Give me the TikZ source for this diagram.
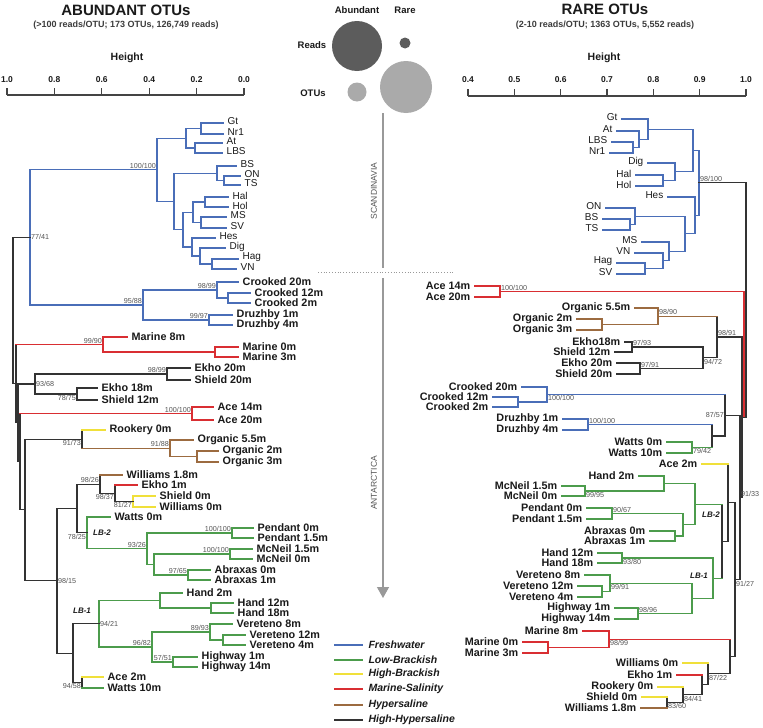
\documentclass[tikz,border=0pt]{standalone}
\usepackage{fontspec}
\setmainfont{Liberation Sans}
\usepackage{tikz}
\usetikzlibrary{arrows.meta,calc}
\definecolor{salfresh}{HTML}{4A6EB8}
\definecolor{sallow}{HTML}{4C9C4C}
\definecolor{salhigh}{HTML}{F0E03A}
\definecolor{salmarine}{HTML}{D92E32}
\definecolor{salhyper}{HTML}{9C6B40}
\definecolor{salhh}{HTML}{333333}
\definecolor{salink}{HTML}{1A1A1A}
\definecolor{salmute}{HTML}{555555}
\definecolor{saldark}{HTML}{5C5C5C}
\definecolor{sallight}{HTML}{AAAAAA}
\definecolor{salaxis}{HTML}{444444}
\tikzset{
  bra/.style={line width=1.05pt, line cap=rect},
  lfa/.style={anchor=west, inner xsep=4.5pt, inner ysep=0pt, font=\bfseries\fontsize{10.8}{11}\selectfont, text=salink},
  lfr/.style={lfa, anchor=east},
  sca/.style={anchor=west, inner xsep=4.5pt, inner ysep=0pt, yshift=1.5pt, font=\fontsize{10}{10}\selectfont, text=salink},
  scr/.style={sca, anchor=east},
  bsv/.style={inner sep=1pt, font=\fontsize{7.2}{7.2}\selectfont, text=salmute},
  lbg/.style={inner sep=0pt, font=\bfseries\itshape\fontsize{8}{8}\selectfont, text=salink},
  ttl/.style={inner sep=0pt, font=\bfseries\fontsize{15}{15}\selectfont, text=salink},
  subt/.style={inner sep=0pt, font=\bfseries\fontsize{9}{9}\selectfont, text=salink!85},
  tck/.style={inner sep=0pt, font=\bfseries\fontsize{8.5}{8.5}\selectfont, text=salink},
  hgt/.style={inner sep=0pt, font=\bfseries\fontsize{10.5}{10.5}\selectfont, text=salink},
  cir/.style={circle, inner sep=0pt},
  cil/.style={inner sep=0pt, font=\bfseries\fontsize{9.5}{9.5}\selectfont, text=salink},
  reg/.style={inner sep=0pt, rotate=90, font=\fontsize{8.5}{8.5}\selectfont, text=salmute},
  axl/.style={line width=1.2pt, draw=salaxis},
  lgd/.style={anchor=west, inner xsep=6pt, font=\bfseries\itshape\fontsize{10.5}{10.5}\selectfont, text=salink},
  guide/.style={line width=1.3pt, draw=gray!80},
}

\begin{document}
\begin{tikzpicture}[x=1pt, y=-1pt]
  \useasboundingbox (0,0) rectangle (763,728);
  \fill[white] (0,0) rectangle (763,728);

  % headers and height axes
  \node[ttl] (tA) at (126,10) {ABUNDANT OTUs};
  \node[subt] (sA) at (126,25) {(>100 reads/OTU; 173 OTUs, 126,749 reads)};
  \node[hgt] (hA) at (127,58) {Height};
  \node[ttl] (tR) at (605,9) {RARE OTUs};
  \node[subt] (sR) at (605,25) {(2-10 reads/OTU; 1363 OTUs, 5,552 reads)};
  \node[hgt] (hR) at (604,58) {Height};
  \draw[axl] (7,95) -- (244,95);
  \foreach \i/\v in {0/1.0,1/0.8,2/0.6,3/0.4,4/0.2,5/0.0} {
    \draw[axl] (7+47.4*\i,95) -- ++(0,-7);
    \node[tck] (ta\i) at (7+47.4*\i,80) {\v};
  }
  \draw[axl] (468,96) -- (746,96);
  \foreach \i/\v in {0/0.4,1/0.5,2/0.6,3/0.7,4/0.8,5/0.9,6/1.0} {
    \draw[axl] (468+46.33*\i,96) -- ++(0,-7);
    \node[tck] (tr\i) at (468+46.33*\i,80) {\v};
  }

  % reads / OTUs bubbles
  \node[cil] (cA) at (357,10) {Abundant};
  \node[cil] (cR) at (405,10) {Rare};
  \node[cil] (cRd) at (312,45) {Reads};
  \node[cil] (cOt) at (313,93) {OTUs};
  \node[cir, fill=saldark, minimum size=50pt] (bAR) at (357,46) {};
  \node[cir, fill=saldark, minimum size=11pt] (bRR) at (405,43) {};
  \node[cir, fill=sallight, minimum size=19pt] (bAO) at (357,92) {};
  \node[cir, fill=sallight, minimum size=52pt] (bRO) at (406,87) {};

  % region guide
  \coordinate (gT) at (383,113);
  \coordinate (gM) at (383,268);
  \coordinate (gB) at (383,278);
  \coordinate (gE) at (383,598);
  \coordinate (dL) at (318,272);
  \coordinate (dR) at (455,272);
  \draw[guide] (gT) -- (gM);
  \draw[guide, -{Triangle[length=11pt,width=12pt]}] (gB) -- (gE);
  \draw[gray!80, line width=0.8pt, dotted] (dL) -- (dR);
  \node[reg] (rgS) at (374,191) {SCANDINAVIA};
  \node[reg] (rgA) at (374,483) {ANTARCTICA};

  % abundant leaves
  \foreach \n/\x/\y/\t in {aGt/223/123/Gt, aNr/223/134/Nr1, aAt/222/143/At, aLBS/222/153/LBS,
      aBS/236/166/BS, aON/240/176/ON, aTS/240/185/TS, aHal/228/197/Hal, aHol/228/207/Hol,
      aMS/226/217/MS, aSV/226/228/SV, aHes/215/238/Hes, aDig/225/248/Dig, aHag/238/259/Hag,
      aVN/236/269/VN} {
    \coordinate (\n) at (\x,\y);
    \node[sca] (l\n) at (\n) {\t};
  }
  \foreach \n/\x/\y/\t in {aC20/238/282/Crooked 20m, aC12/250/293/Crooked 12m, aC2/250/303/Crooked 2m,
      aD1/232/315/Druzhby 1m, aD4/232/325/Druzhby 4m, aM8/127/337/Marine 8m, aM0/238/347/Marine 0m,
      aM3/238/357/Marine 3m, aE20/190/368/Ekho 20m, aS20/190/380/Shield 20m, aE18/97/388/Ekho 18m,
      aS12/97/400/Shield 12m, aA14/213/407/Ace 14m, aA20/213/420/Ace 20m, aRk/105/430/Rookery 0m,
      aO55/193/440/Organic 5.5m, aO2/218/451/Organic 2m, aO3/218/462/Organic 3m,
      aW18/122/475/Williams 1.8m, aE1/137/485/Ekho 1m, aS0/155/496/Shield 0m, aW0/155/507/Williams 0m,
      aWt0/110/517/Watts 0m, aP0/253/528/Pendant 0m, aP15/253/538/Pendant 1.5m,
      aMc15/252/549/McNeil 1.5m, aMc0/252/559/McNeil 0m, aAb0/210/570/Abraxas 0m,
      aAb1/210/580/Abraxas 1m, aH2/182/593/Hand 2m, aH12/233/603/Hand 12m, aH18/233/613/Hand 18m,
      aV8/232/624/Vereteno 8m, aV12/245/635/Vereteno 12m, aV4/245/645/Vereteno 4m,
      aHw1/197/657/Highway 1m, aHw14/197/667/Highway 14m, aA2/103/677/Ace 2m, aWt10/103/688/Watts 10m} {
    \coordinate (\n) at (\x,\y);
    \node[lfa] (l\n) at (\n) {\t};
  }

  % rare leaves
  \foreach \n/\x/\y/\t in {rGt/622/119/Gt, rAt/617/131/At, rLBS/612/142/LBS, rNr/610/153/Nr1,
      rDig/648/163/Dig, rHal/636/175/Hal, rHol/636/186/Hol, rHes/668/197/Hes, rON/606/208/ON,
      rBS/603/219/BS, rTS/603/230/TS, rMS/642/242/MS, rVN/635/253/VN, rHag/617/263/Hag,
      rSV/617/274/SV} {
    \coordinate (\n) at (\x,\y);
    \node[scr] (l\n) at (\n) {\t};
  }
  \foreach \n/\x/\y/\t in {rA14/475/286/Ace 14m, rA20/475/297/Ace 20m, rO55/635/308/Organic 5.5m,
      rO2/577/319/Organic 2m, rO3/577/330/Organic 3m, rE18/625/342/Ekho18m, rS12/615/352/Shield 12m,
      rE20/617/363/Ekho 20m, rS20/617/374/Shield 20m, rC20/522/387/Crooked 20m,
      rC12/493/397/Crooked 12m, rC2/493/407/Crooked 2m, rD1/563/419/Druzhby 1m,
      rD4/563/430/Druzhby 4m, rWt0/667/442/Watts 0m, rWt10/667/453/Watts 10m, rA2/702/464/Ace 2m,
      rH2/639/476/Hand 2m, rMc15/562/486/McNeil 1.5m, rMc0/562/496/McNeil 0m,
      rP0/587/508/Pendant 0m, rP15/587/519/Pendant 1.5m, rAb0/650/531/Abraxas 0m,
      rAb1/650/541/Abraxas 1m, rH12/598/553/Hand 12m, rH18/598/563/Hand 18m,
      rV8/585/575/Vereteno 8m, rV12/578/586/Vereteno 12m, rV4/578/597/Vereteno 4m,
      rHw1/615/608/Highway 1m, rHw14/615/619/Highway 14m, rM8/583/631/Marine 8m,
      rM0/523/642/Marine 0m, rM3/523/653/Marine 3m, rW0/683/663/Williams 0m, rE1/677/675/Ekho 1m,
      rRk/658/687/Rookery 0m, rS0/642/697/Shield 0m, rW18/641/708/Williams 1.8m} {
    \coordinate (\n) at (\x,\y);
    \node[lfr] (l\n) at (\n) {\t};
  }

  % joins: name/x/child a/child b/vertical/branch a/branch b
  \foreach \n/\x/\a/\b/\kv/\ka/\kb in {
      aGN/201/aGt/aNr/salfresh/salfresh/salfresh, aAL/195/aAt/aLBS/salfresh/salfresh/salfresh,
      aG1/186/aGN/aAL/salfresh/salfresh/salfresh, aOT/224/aON/aTS/salfresh/salfresh/salfresh,
      aBOT/217/aBS/aOT/salfresh/salfresh/salfresh, aHH/205/aHal/aHol/salfresh/salfresh/salfresh,
      aMSV/201/aMS/aSV/salfresh/salfresh/salfresh, aHM/193/aHH/aMSV/salfresh/salfresh/salfresh,
      aHV/212/aHag/aVN/salfresh/salfresh/salfresh, aDHV/200/aDig/aHV/salfresh/salfresh/salfresh,
      aHes2/192/aHes/aDHV/salfresh/salfresh/salfresh, aG3/183/aHM/aHes2/salfresh/salfresh/salfresh,
      aG2/174/aBOT/aG3/salfresh/salfresh/salfresh, aSc/157/aG1/aG2/salfresh/salfresh/salfresh,
      aCr2/228/aC12/aC2/salfresh/salfresh/salfresh, aCr/217/aC20/aCr2/salfresh/salfresh/salfresh,
      aDr/209/aD1/aD4/salfresh/salfresh/salfresh, aCD/143/aCr/aDr/salfresh/salfresh/salfresh,
      aFW/30/aSc/aCD/salfresh/salfresh/salfresh,
      aMa2/215/aM0/aM3/salmarine/salmarine/salmarine, aMa/103/aM8/aMa2/salmarine/salmarine/salmarine,
      aES20/167/aE20/aS20/salhh/salhh/salhh, aES12/77/aE18/aS12/salhh/salhh/salhh,
      aES/35/aES20/aES12/salhh/salhh/salhh, aAce/192/aA14/aA20/salmarine/salmarine/salmarine,
      aOr2/197/aO2/aO3/salhyper/salhyper/salhyper, aOr/170/aO55/aOr2/salhyper/salhyper/salhyper,
      aRO/82/aRk/aOr/salhh/salhigh/salhyper,
      aSW/133/aS0/aW0/salhigh/salhigh/salhigh, aES1/115/aE1/aSW/salhh/salmarine/salhh,
      aW18n/100/aW18/aES1/salhh/salhyper/salhh,
      aPd/232/aP0/aP15/sallow/sallow/sallow, aMc/230/aMc15/aMc0/sallow/sallow/sallow,
      aAb/188/aAb0/aAb1/sallow/sallow/sallow, aMA/154/aMc/aAb/sallow/sallow/sallow,
      aPMA/147/aPd/aMA/sallow/sallow/sallow, aLB2/87/aWt0/aPMA/sallow/sallow/sallow,
      aWL/77/aW18n/aLB2/salhh/salhh/salhh,
      aHd/211/aH12/aH18/sallow/sallow/sallow, aHd2/160/aH2/aHd/sallow/sallow/sallow,
      aVr2/223/aV12/aV4/sallow/sallow/sallow, aVr/210/aV8/aVr2/sallow/sallow/sallow,
      aHw/173/aHw1/aHw14/sallow/sallow/sallow, aVH/152/aVr/aHw/sallow/sallow/sallow,
      aLB1/99/aHd2/aVH/sallow/sallow/sallow, aAW/82/aA2/aWt10/salhh/salhigh/sallow,
      aL1/73/aLB1/aAW/salhh/salhh/salhh, aBig/57/aWL/aL1/salhh/salhh/salhh,
      aN5/25/aRO/aBig/salhh/salhh/salhh, aN4/20/aAce/aN5/salhh/salmarine/salhh,
      aN3/18/aES/aN4/salhh/salhh/salhh, aN2/16/aMa/aN3/salhh/salmarine/salhh,
      aN1/13/aFW/aN2/salhh/salhh/salhh,
      rLN/633/rLBS/rNr/salfresh/salfresh/salfresh, rAL/639/rAt/rLN/salfresh/salfresh/salfresh,
      rG/648/rGt/rAL/salfresh/salfresh/salfresh, rHH/663/rHal/rHol/salfresh/salfresh/salfresh,
      rDH/675/rDig/rHH/salfresh/salfresh/salfresh, rG1/693/rG/rDH/salfresh/salfresh/salfresh,
      rBT/630/rBS/rTS/salfresh/salfresh/salfresh, rOBT/635/rON/rBT/salfresh/salfresh/salfresh,
      rHS/645/rHag/rSV/salfresh/salfresh/salfresh, rVHS/663/rVN/rHS/salfresh/salfresh/salfresh,
      rMVHS/669/rMS/rVHS/salfresh/salfresh/salfresh, rG2/685/rOBT/rMVHS/salfresh/salfresh/salfresh,
      rHes2/695/rHes/rG2/salfresh/salfresh/salfresh, rSc/699/rG1/rHes2/salfresh/salfresh/salfresh,
      rAce/500/rA14/rA20/salmarine/salmarine/salmarine,
      rOr2/602/rO2/rO3/salhyper/salhyper/salhyper, rOr/658/rO55/rOr2/salhyper/salhyper/salhyper,
      rES12/632/rE18/rS12/salhh/salhh/salhh, rES20/640/rE20/rS20/salhh/salhh/salhh,
      rES/703/rES12/rES20/salhh/salhh/salhh, rOE/717/rOr/rES/salhh/salhyper/salhh,
      rCr2/518/rC12/rC2/salfresh/salfresh/salfresh, rCr/547/rC20/rCr2/salfresh/salfresh/salfresh,
      rDr/588/rD1/rD4/salfresh/salfresh/salfresh, rWt/692/rWt0/rWt10/sallow/sallow/sallow,
      rDW/712/rDr/rWt/salhh/salfresh/sallow, rCDW/725/rCr/rDW/salhh/salfresh/salhh,
      rMc/585/rMc15/rMc0/sallow/sallow/sallow, rHM/664/rH2/rMc/sallow/sallow/sallow,
      rPd/612/rP0/rP15/sallow/sallow/sallow, rAb/675/rAb0/rAb1/sallow/sallow/sallow,
      rPA/683/rPd/rAb/sallow/sallow/sallow, rLB2/695/rHM/rPA/sallow/sallow/sallow,
      rHd/622/rH12/rH18/sallow/sallow/sallow, rVr2/602/rV12/rV4/sallow/sallow/sallow,
      rVr/610/rV8/rVr2/sallow/sallow/sallow, rHw/638/rHw1/rHw14/sallow/sallow/sallow,
      rVH/692/rVr/rHw/sallow/sallow/sallow, rLB1/713/rHd/rVH/sallow/sallow/sallow,
      rLB/722/rLB2/rLB1/salhh/sallow/sallow, rAL2/728/rA2/rLB/salhh/salhigh/salhh,
      rMa2/548/rM0/rM3/salmarine/salmarine/salmarine, rMa/609/rM8/rMa2/salmarine/salmarine/salmarine,
      rSW/667/rS0/rW18/salhh/salhigh/salhyper, rRSW/683/rRk/rSW/salhh/salhigh/salhh,
      rERSW/702/rE1/rRSW/salhh/salmarine/salhh, rWE/708/rW0/rERSW/salhh/salhigh/salhh,
      rMW/730/rMa/rWE/salhh/salmarine/salhh, rR5/735/rAL2/rMW/salhh/salhh/salhh,
      rR4/740/rCDW/rR5/salhh/salhh/salhh, rR3/742/rOE/rR4/salhh/salhh/salhh,
      rR1/746/rSc/rR3/salhh/salhh/salhh, rR2/744/rAce/rR3/salmarine/salmarine/salhh} {
    \path (\a) -- (\b) coordinate[pos=.5] (m\n);
    \coordinate (\n) at (m\n -| \x,0);
    \draw[bra, \kv] (\a -| \n) -- (\b -| \n);
    \draw[bra, \ka] (\a) -- (\a -| \n);
    \draw[bra, \kb] (\b) -- (\b -| \n);
  }

  % support values
  \foreach \n/\p/\u/\w in {aSc/south east/100/100, aFW/west/77/41, aCr/south east/98/99,
      aCD/south east/95/88, aDr/south east/99/97, aMa/south east/99/90, aES20/south east/98/99,
      aES/west/93/68, aES12/north east/78/75, aAce/south east/100/100, aRO/north east/91/73,
      aOr/south east/91/88, aW18n/south east/98/26, aES1/north east/98/37, aSW/north east/81/27,
      aLB2/north east/78/25, aPMA/south east/93/26, aPd/south east/100/100, aMc/south east/100/100,
      aAb/south east/97/65, aBig/west/98/15, aLB1/west/94/21, aVH/south east/96/82,
      aVr/south east/89/93, aHw/south east/57/51, aAW/north east/94/58,
      rSc/south west/98/100, rAce/south west/100/100, rOr/south west/98/90, rOE/south west/98/91,
      rES12/south west/97/93, rES20/south west/97/91, rES/north west/94/72, rCr/north west/100/100,
      rDr/south west/100/100, rCDW/east/87/57, rWt/north west/79/42, rMc/north west/99/95,
      rPd/south west/90/67, rHd/north west/93/80, rVr/north west/99/91, rHw/south west/98/96,
      rMa/north west/98/99, rSW/north west/83/60, rRSW/north west/84/41, rWE/north west/87/22,
      rR4/south west/91/33, rR5/north west/91/27} {
    \node[bsv, anchor=\p] (s\n) at (\n) {\u/\w};
  }
  \node[lbg] (gA2) at (102,533) {LB-2};
  \node[lbg] (gA1) at (82,611) {LB-1};
  \node[lbg] (gR2) at (711,515) {LB-2};
  \node[lbg] (gR1) at (699,576) {LB-1};

  % legend
  \foreach \k/\t/\y in {salfresh/Freshwater/645, sallow/Low-Brackish/660, salhigh/High-Brackish/674,
      salmarine/Marine-Salinity/689, salhyper/Hypersaline/705, salhh/High-Hypersaline/720} {
    \draw[bra, \k] (335,\y) -- (362,\y) node[lgd] (k\k) {\t};
  }
\end{tikzpicture}
\end{document}
